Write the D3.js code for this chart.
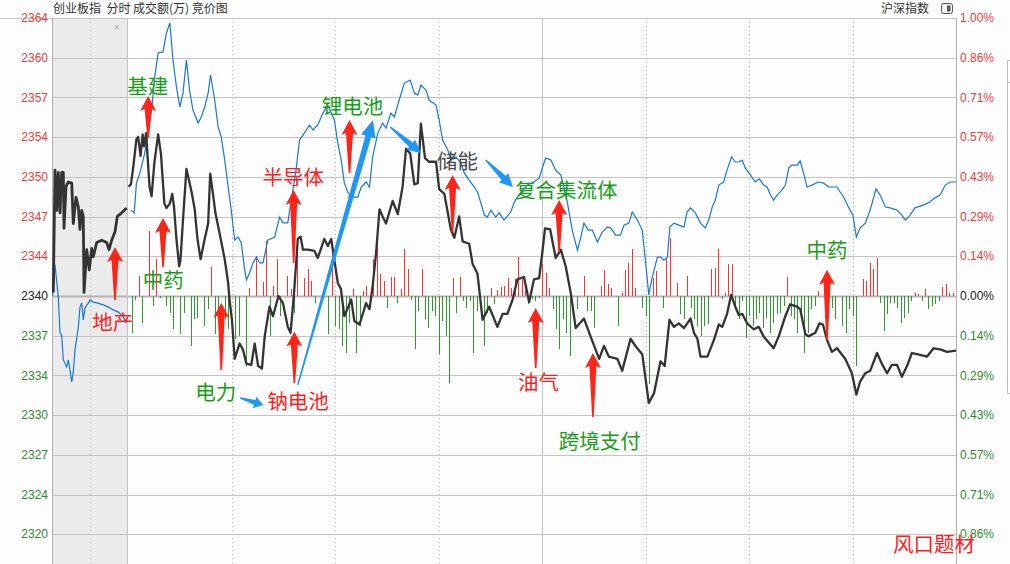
<!DOCTYPE html>
<html><head><meta charset="utf-8">
<script src="https://cdn.jsdelivr.net/npm/d3@7/dist/d3.min.js"></script>
<style>
html,body{margin:0;padding:0;background:#fdfdfd;}
svg{display:block;}
</style></head><body>
<svg id="c" width="1010" height="564"></svg>
<script>
// ---------------- DATA ----------------
const title = "创业板指\u00a0\u00a0分时 成交额(万) 竞价图";
const compareName = "沪深指数";
const cornerLabel = "风口题材";
const prevClose = 2340.3;
const tickPct = [1, 6/7, 5/7, 4/7, 3/7, 2/7, 1/7, 0, -1/7, -2/7, -3/7, -4/7, -5/7, -6/7];
const leftTickLabels = ["2364","2360","2357","2354","2350","2347","2344","2340","2337","2334","2330","2327","2324","2320"];
const rightTickLabels = ["1.00%","0.86%","0.71%","0.57%","0.43%","0.29%","0.14%","0.00%","0.14%","0.29%","0.43%","0.57%","0.71%","0.86%"];
const halfHourMinutes = [30, 60, 90, 150, 180, 210];
const noonMinute = 120;

// auction (9:15-9:25, minutes from 9:15), 创业板指 price
const cybAuction = [[0.17,2340.6],[0.4,2350.9],[0.63,2347.5],[0.84,2350.7],[1.07,2347.3],[1.29,2350.7],[1.51,2350.7],[1.6,2346.0],[1.87,2349.5],[2.17,2349.9],[2.63,2349.8],[2.84,2346.4],[3.2,2348.6],[3.51,2347.8],[3.73,2345.9],[3.96,2347.5],[4.17,2347.0],[4.27,2340.6],[4.63,2344.2],[4.97,2342.5],[5.29,2344.3],[5.51,2343.6],[5.96,2344.8],[6.63,2345.0],[7.29,2344.8],[7.6,2344.2],[7.96,2345.0],[8.4,2345.7],[8.71,2347.0],[9.29,2347.3],[9.96,2347.7]];
// auction, 沪深指数 change %
const hsAuction = [[0.07,0.000],[0.4,0.112],[0.84,-0.004],[1.07,-0.133],[1.29,-0.140],[1.51,-0.230],[1.96,-0.255],[2.17,-0.230],[2.4,-0.266],[2.63,-0.309],[2.84,-0.273],[3.07,-0.194],[3.51,-0.112],[3.73,-0.040],[3.96,-0.025],[4.17,-0.086],[4.4,-0.043],[4.84,-0.025],[5.07,-0.014],[5.51,-0.022],[5.96,-0.025],[6.84,-0.032],[7.51,-0.040],[8.17,-0.050],[8.84,-0.058],[9.51,-0.076],[9.87,-0.097]];

// session (minutes of trading from 9:30), 创业板指 price
const cybMain = [[0,2349.5],[0.7,2349.7],[1.4,2351.2],[2.3,2353.5],[2.8,2353.7],[3.5,2352.1],[4.1,2353.9],[4.5,2352.9],[5.1,2354.0],[6.1,2349.5],[6.7,2348.7],[7.5,2351.5],[8.6,2353.9],[9.4,2352.3],[10.4,2348.1],[11.0,2347.7],[12.0,2348.1],[12.7,2348.9],[13.2,2347.8],[13.9,2345.1],[14.7,2342.8],[15.1,2343.4],[15.8,2346.7],[16.8,2351.0],[17.5,2350.1],[18.4,2348.9],[19.2,2347.6],[20.0,2345.1],[20.9,2343.4],[22.1,2345.1],[23.1,2346.4],[23.7,2350.6],[24.5,2348.9],[25.2,2347.3],[26.4,2345.6],[27.9,2343.4],[28.9,2341.4],[29.3,2340.0],[30.0,2338.3],[30.8,2335.0],[32.2,2336.3],[33.2,2335.8],[34.2,2334.6],[35.6,2334.5],[36.6,2336.3],[37.6,2334.4],[38.7,2334.2],[39.5,2336.9],[40.9,2339.4],[41.9,2338.6],[43.5,2340.3],[44.8,2339.7],[46.2,2337.7],[47.0,2337.2],[48.0,2340.5],[49.1,2345.1],[49.9,2345.3],[50.6,2344.2],[52.0,2344.2],[53.9,2344.1],[54.9,2343.5],[56.8,2345.1],[57.8,2344.5],[58.8,2345.1],[60.7,2341.4],[61.6,2340.9],[62.6,2338.6],[64.6,2340.0],[65.5,2338.2],[67.0,2337.9],[68.9,2339.7],[69.9,2339.2],[70.8,2341.1],[71.8,2343.9],[72.8,2347.6],[73.7,2347.0],[74.7,2346.4],[76.6,2348.3],[78.1,2347.2],[79.5,2349.5],[80.5,2352.7],[81.7,2352.3],[82.9,2349.7],[83.9,2349.8],[84.8,2354.8],[86.0,2351.9],[87.2,2351.6],[89.2,2351.6],[90.1,2349.3],[91.6,2348.9],[93.5,2345.9],[94.5,2345.2],[95.9,2347.0],[96.9,2344.9],[98.8,2344.7],[99.8,2343.0],[101.2,2342.2],[102.7,2338.3],[104.6,2339.4],[107.0,2337.7],[108.5,2338.8],[109.9,2338.8],[111.4,2340.0],[112.8,2341.7],[114.7,2341.9],[116.2,2339.8],[117.6,2341.7],[119.1,2341.8],[120.0,2343.9],[120.8,2346.0],[122.3,2345.9],[123.9,2343.5],[125.4,2344.2],[126.8,2342.8],[128.3,2340.5],[129.7,2337.6],[132.1,2338.4],[134.0,2336.9],[136.5,2335.0],[137.9,2336.1],[139.3,2335.2],[141.8,2335.0],[143.2,2334.0],[145.6,2336.7],[147.0,2336.1],[149.0,2335.4],[150.9,2331.3],[152.4,2332.1],[154.3,2334.8],[155.5,2334.4],[156.9,2338.3],[158.2,2337.7],[159.6,2338.0],[161.1,2337.6],[163.0,2338.4],[164.0,2337.2],[165.0,2336.7],[165.9,2335.2],[167.9,2335.2],[169.8,2336.6],[171.2,2337.9],[172.2,2337.7],[173.6,2338.8],[174.8,2340.4],[176.0,2339.4],[177.0,2338.7],[178.0,2338.8],[179.4,2338.0],[181.3,2337.5],[182.8,2337.7],[184.2,2336.9],[187.1,2335.9],[188.6,2336.9],[190.5,2338.6],[191.9,2339.6],[193.9,2339.4],[194.8,2339.2],[196.3,2337.1],[197.2,2336.9],[199.2,2337.2],[200.4,2338.0],[201.4,2337.9],[202.6,2336.6],[204.0,2335.6],[205.5,2335.9],[207.9,2335.0],[209.8,2333.8],[211.1,2332.0],[212.2,2333.1],[213.7,2333.8],[215.1,2334.0],[217.1,2335.5],[218.5,2334.6],[220.0,2333.8],[221.4,2334.5],[222.9,2334.5],[224.3,2333.5],[225.8,2334.4],[227.2,2335.5],[228.7,2335.4],[231.6,2335.2],[233.5,2335.9],[235.4,2335.8],[237.4,2335.6],[240.0,2335.7]];

// session, 沪深指数 change %
const hsMain = [[0.7,0.309],[1.65,0.299],[2.3,0.406],[3.3,0.442],[4.7,0.514],[5.7,0.586],[6.7,0.669],[7.6,0.788],[8.6,0.874],[10.0,0.878],[11.0,0.946],[12.0,0.982],[12.9,0.849],[13.9,0.752],[14.9,0.680],[15.8,0.730],[16.8,0.849],[17.7,0.741],[18.7,0.669],[20.2,0.622],[21.1,0.644],[22.1,0.680],[23.1,0.730],[23.8,0.795],[25.0,0.705],[26.0,0.608],[26.9,0.572],[27.9,0.489],[28.9,0.392],[29.8,0.309],[30.8,0.201],[31.8,0.212],[32.7,0.191],[33.7,0.094],[34.2,0.058],[35.1,0.083],[36.1,0.119],[37.1,0.140],[38.0,0.119],[39.0,0.119],[40.4,0.201],[42.4,0.212],[43.8,0.284],[44.8,0.263],[46.2,0.263],[47.2,0.345],[48.6,0.453],[49.6,0.561],[51.0,0.586],[52.5,0.615],[53.5,0.597],[54.9,0.615],[56.4,0.658],[57.8,0.687],[58.8,0.658],[59.7,0.633],[60.7,0.550],[61.7,0.489],[62.6,0.406],[63.6,0.374],[64.6,0.356],[66.5,0.356],[67.5,0.392],[68.9,0.410],[69.9,0.392],[70.8,0.500],[72.3,0.586],[73.7,0.622],[74.7,0.604],[76.1,0.658],[77.1,0.644],[78.5,0.705],[80.0,0.766],[81.7,0.777],[82.9,0.730],[83.9,0.723],[84.8,0.759],[86.3,0.741],[87.2,0.705],[89.2,0.687],[90.1,0.633],[91.1,0.561],[92.6,0.525],[93.5,0.489],[95.0,0.500],[96.4,0.478],[97.4,0.442],[98.8,0.417],[100.3,0.392],[101.2,0.374],[102.2,0.335],[103.2,0.291],[104.1,0.284],[105.1,0.309],[106.5,0.284],[107.5,0.299],[108.9,0.273],[110.9,0.302],[111.8,0.335],[112.8,0.356],[114.3,0.381],[115.7,0.399],[117.6,0.410],[119.1,0.424],[120.1,0.464],[121.0,0.496],[122.5,0.489],[123.9,0.453],[125.4,0.435],[126.3,0.392],[127.3,0.335],[128.7,0.237],[130.2,0.165],[131.2,0.212],[132.1,0.262],[133.3,0.237],[134.5,0.237],[136.0,0.194],[137.4,0.230],[138.9,0.248],[139.8,0.245],[141.3,0.219],[142.7,0.219],[143.7,0.255],[145.1,0.262],[146.1,0.302],[147.6,0.273],[149.0,0.237],[150.0,0.119],[150.9,0.004],[151.9,0.068],[153.4,0.140],[154.3,0.140],[155.3,0.129],[156.3,0.140],[157.0,0.248],[158.2,0.262],[159.6,0.255],[161.1,0.248],[162.0,0.302],[163.0,0.317],[164.4,0.299],[165.9,0.262],[167.3,0.245],[168.3,0.273],[169.3,0.320],[170.2,0.345],[171.2,0.399],[172.6,0.410],[173.6,0.453],[174.9,0.500],[176.0,0.482],[177.0,0.482],[178.0,0.489],[178.9,0.460],[180.4,0.435],[181.8,0.410],[183.0,0.421],[184.2,0.399],[185.2,0.392],[186.2,0.363],[187.1,0.345],[188.1,0.363],[189.5,0.381],[190.5,0.399],[191.5,0.460],[192.4,0.471],[193.9,0.471],[194.8,0.486],[195.8,0.442],[196.8,0.392],[198.2,0.399],[200.1,0.410],[201.6,0.406],[203.0,0.392],[204.5,0.392],[205.5,0.392],[206.4,0.374],[207.4,0.356],[208.8,0.320],[210.1,0.291],[211.1,0.212],[212.2,0.245],[213.7,0.262],[215.1,0.309],[216.8,0.385],[218.0,0.363],[219.5,0.320],[220.9,0.317],[222.9,0.309],[224.3,0.291],[225.3,0.273],[226.7,0.291],[228.1,0.317],[230.5,0.327],[232.4,0.338],[233.9,0.353],[235.4,0.363],[236.9,0.399],[238.3,0.410],[240.0,0.410]];

// per-minute bar values (minute 0..240), positive red / negative green
const minuteBars = [
 0,-37,-4,20,-27,0,65,-10,37,-2,
 0,-10,-17,-33,0,-38,-17,0,-50,-23,
 -22,0,-30,-13,29,-38,-17,0,-23,-33,
 0,-43,-40,0,-70,8,0,40,0,14,
 55,-40,10,37,-20,0,20,7,-17,43,
 0,18,27,15,-7,0,0,0,-38,50,
 -30,-33,-50,-57,-27,7,-57,-30,5,10,
 0,37,62,22,15,-12,19,19,-7,7,
 47,27,-4,-53,-15,27,-23,-32,-15,-20,
 -58,-25,-40,-87,18,-17,19,-5,-12,-5,
 -57,-15,0,-50,-17,8,-8,6,9,10,
 18,8,17,39,17,6,-8,-3,-5,-2,
 32,23,8,-13,-33,-53,-23,-37,-60,0,
 -13,0,20,-15,-15,-32,0,10,26,12,
 8,0,-30,3,26,33,47,8,0,-12,
 -20,-88,18,25,0,-12,38,58,0,13,
 -18,-23,20,-12,-23,-30,-40,-30,-28,27,
 28,47,-3,3,32,32,-13,-23,-5,-42,
 -20,-30,-23,-17,-32,-22,-37,-27,-18,-17,
 -10,19,-20,-23,-37,-23,-57,-37,-13,-10,
 5,0,-23,-23,-12,-23,0,-30,-37,-13,
 -20,-70,0,17,15,33,27,38,-7,-35,
 -18,-7,-7,-12,-27,-22,-17,-5,3,2,
 -5,7,-13,-10,-8,-5,9,12,3,3,
 5];

// theme annotations: minute (negative = auction), pct of tip / tail, label
const upArrows = [
 {m:5.7,  tip:0.719, tail:0.568},
 {m:10.0, tip:0.281, tail:0.104},
 {m:-1.6, tip:0.176, tail:-0.014},
 {m:26.9, tip:-0.024,tail:-0.266},
 {m:48.1, tip:-0.128,tail:-0.313},
 {m:47.9, tip:0.381, tail:0.119},
 {m:64.1, tip:0.633, tail:0.442},
 {m:94.0, tip:0.435, tail:0.230},
 {m:124.9,tip:0.345, tail:0.158},
 {m:118.1,tip:-0.043,tail:-0.259},
 {m:134.7,tip:-0.205,tail:-0.435},
 {m:202.6,tip:0.094, tail:-0.158}
];
const themeLabels = [
 {t:"基建", m:5.6, p:0.759, c:"g"},
 {t:"中药", m:10.1, p:0.061, c:"g"},
 {t:"地产", m:-1.9, p:-0.090, c:"r"},
 {t:"电力", m:25.3, p:-0.342, c:"g"},
 {t:"钠电池", m:49.2, p:-0.374, c:"r"},
 {t:"半导体", m:47.8, p:0.432, c:"r"},
 {t:"锂电池", m:65.0, p:0.687, c:"g"},
 {t:"储能", m:95.4, p:0.489, c:"k"},
 {t:"复合集流体", m:127.0, p:0.385, c:"g"},
 {t:"油气", m:118.9, p:-0.306, c:"r"},
 {t:"跨境支付", m:136.7, p:-0.518, c:"g"},
 {t:"中药", m:202.6, p:0.169, c:"g"}
];
const linkArrows = [
 {m1:32.4, p1:-0.367, m2:39.1, p2:-0.392, hl:9,  hw:6, sw:2.6},
 {m1:49.1, p1:-0.320, m2:70.9, p2:0.633,  hl:17, hw:7.5, sw:3},
 {m1:75.9, p1:0.608,  m2:84.8, p2:0.514,  hl:13, hw:6.5, sw:3},
 {m1:103.6,p1:0.489,  m2:111.5,p2:0.392,  hl:13, hw:6.5, sw:3}
];

// ---------------- LAYOUT ----------------
const W = 1010, H = 564;
const L = 52, AUC = 127, R = 956, T = 18, B = 564;
const svg = d3.select("#c");
const xAuc = d3.scaleLinear().domain([0, 10]).range([L, AUC]);
const xMain = d3.scaleLinear().domain([0, 240]).range([128.5, R]);
const yPct = d3.scaleLinear().domain([-1, 1]).range([574, T]);
const toPct = p => (p / prevClose - 1) * 100;
const barH = d3.scaleLinear().domain([0, 100]).range([0, 100]);
const ax = m => m < 0 ? xAuc(10 + m) : xMain(m);

const COL = {red:"#ee3b3b", green:"#2e8b2e", grid:"#c4c4c4", lineK:"#333333", lineB:"#1878d0",
  labR:"#ff1c1c", labG:"#16a016", labK:"#4a4a4a", arrowR:"#ff2418", arrowB:"#2196f3"};

svg.append("rect").attr("width", W).attr("height", H).attr("fill", "#fdfdfd");
svg.append("rect").attr("x", L).attr("y", T).attr("width", AUC - L).attr("height", B - T).attr("fill", "#ebebeb");

svg.append("defs").append("clipPath").attr("id","plot")
  .append("rect").attr("x", L).attr("y", T).attr("width", R - L).attr("height", B - T);

const g = svg.append("g");
// horizontal grid
g.selectAll(".hg").data(tickPct).join("line")
  .attr("x1", (d,i) => i === 0 ? 0 : L).attr("x2", R)
  .attr("y1", d => Math.round(yPct(d)) + 0.5).attr("y2", d => Math.round(yPct(d)) + 0.5)
  .attr("stroke", d => d === 0 ? "#b4b4b4" : COL.grid)
  .attr("stroke-width", d => d === 0 ? 2 : 1);
// dotted verticals
const dotted = [xAuc(5)].concat(halfHourMinutes.map(xMain));
g.selectAll(".vd").data(dotted).join("line")
  .attr("x1", d => Math.round(d) + 0.5).attr("x2", d => Math.round(d) + 0.5)
  .attr("y1", T).attr("y2", B)
  .attr("stroke", "#b8b8b8").attr("stroke-dasharray", "1,3");
// solid verticals
const solid = [L, AUC, xMain(noonMinute), R];
g.selectAll(".vs").data(solid).join("line")
  .attr("x1", d => Math.round(d) + 0.5).attr("x2", d => Math.round(d) + 0.5)
  .attr("y1", T).attr("y2", B)
  .attr("stroke", (d,i) => (i === 0 || i === 3) ? "#b0b0b0" : COL.grid);

// axis labels
const labFont = "'Liberation Sans', Arial, sans-serif";
g.selectAll(".lt").data(tickPct).join("text")
  .attr("x", 48).attr("y", d => yPct(d) + 1)
  .attr("text-anchor", "end").attr("dominant-baseline", "middle")
  .attr("font-family", labFont).attr("font-size", 12)
  .attr("fill", d => d > 0 ? COL.red : d < 0 ? COL.green : "#222")
  .text((d,i) => leftTickLabels[i]);
g.selectAll(".rt").data(tickPct).join("text")
  .attr("x", 960).attr("y", d => yPct(d) + 1)
  .attr("text-anchor", "start").attr("dominant-baseline", "middle")
  .attr("font-family", labFont).attr("font-size", 12)
  .attr("fill", d => d > 0 ? COL.red : d < 0 ? COL.green : "#222")
  .text((d,i) => rightTickLabels[i]);

// header
const cjk = "'Noto Sans CJK SC', 'Noto Sans', sans-serif";
svg.append("text").attr("x", 53).attr("y", 13).attr("font-family", cjk).attr("font-size", 12)
  .attr("fill", "#333").text(title);
svg.append("text").attr("x", 929).attr("y", 13).attr("text-anchor","end").attr("font-family", cjk)
  .attr("font-size", 12).attr("fill", "#333").text(compareName);
svg.append("rect").attr("x", 941.5).attr("y", 3.5).attr("width", 11).attr("height", 10).attr("rx", 2)
  .attr("fill", "#f4f4f4").attr("stroke", "#555");
svg.append("rect").attr("x", 947).attr("y", 5.5).attr("width", 3.5).attr("height", 6).attr("fill", "#555");
svg.append("text").attr("x", 116.5).attr("y", 31).attr("text-anchor","middle").attr("font-family", labFont)
  .attr("font-size", 11).attr("fill", "#aaa").text("×");
// right-side partial frame
svg.append("line").attr("x1",1007.5).attr("x2",1007.5).attr("y1",60).attr("y2",393).attr("stroke","#bbb");
[60, 82, 393].forEach(yy => svg.append("line").attr("x1",1007.5).attr("x2",1010).attr("y1",yy+0.5).attr("y2",yy+0.5).attr("stroke","#bbb"));

// plot content
const p = svg.append("g").attr("clip-path", "url(#plot)");
const y0 = yPct(0);
p.selectAll(".bar").data(minuteBars.map((v,i) => ({m:i, v})).filter(d => d.v !== 0)).join("line")
  .attr("x1", d => Math.round(xMain(d.m)) + 0.5).attr("x2", d => Math.round(xMain(d.m)) + 0.5)
  .attr("y1", y0).attr("y2", d => d.v > 0 ? y0 - barH(d.v) : y0 + barH(-d.v))
  .attr("stroke", d => d.v > 0 ? "#ff3030" : "#2e9a2e").attr("stroke-width", 1);

const lineB1 = d3.line().x(d => xAuc(d[0])).y(d => yPct(d[1]));
const lineB2 = d3.line().x(d => xMain(d[0])).y(d => yPct(d[1]));
const lineK1 = d3.line().x(d => xAuc(d[0])).y(d => yPct(toPct(d[1])));
const lineK2 = d3.line().x(d => xMain(d[0])).y(d => yPct(toPct(d[1])));

p.append("path").attr("d", lineB1(hsAuction)).attr("fill","none").attr("stroke", COL.lineB).attr("stroke-width", 1.2);
p.append("path").attr("d", lineB2(hsMain)).attr("fill","none").attr("stroke", COL.lineB).attr("stroke-width", 1.2);
p.append("path").attr("d", lineK1(cybAuction)).attr("fill","none").attr("stroke", COL.lineK).attr("stroke-width", 2.8).attr("stroke-linejoin","round");
p.append("path").attr("d", lineK2(cybMain)).attr("fill","none").attr("stroke", COL.lineK).attr("stroke-width", 2.3).attr("stroke-linejoin","round");

// annotations
const an = svg.append("g");
an.selectAll(".ua").data(upArrows).join("path")
  .attr("d", d => {
    const x = ax(d.m), ty = yPct(d.tip), by = yPct(d.tail);
    const pts = [[x,ty],[x+8,ty+15],[x+3.5,ty+13],[x+0.8,by],[x-0.8,by],[x-3.5,ty+13],[x-8,ty+15]];
    return "M" + pts.map(q => q.join(",")).join("L") + "Z";
  }).attr("fill", COL.arrowR);

an.selectAll(".la").data(linkArrows).join("path")
  .attr("d", d => {
    const x1 = ax(d.m1), y1 = yPct(d.p1), x2 = ax(d.m2), y2 = yPct(d.p2);
    const dx = x2 - x1, dy = y2 - y1, len = Math.hypot(dx, dy);
    const ux = dx/len, uy = dy/len, nx = -uy, ny = ux;
    const bx = x2 - ux*d.hl, by = y2 - uy*d.hl;
    const tw = 0.7;
    const pts = [[x1+nx*tw, y1+ny*tw],[bx+nx*d.sw, by+ny*d.sw],[bx+nx*d.hw, by+ny*d.hw],[x2,y2],
                 [bx-nx*d.hw, by-ny*d.hw],[bx-nx*d.sw, by-ny*d.sw],[x1-nx*tw, y1-ny*tw]];
    return "M" + pts.map(q => q.join(",")).join("L") + "Z";
  }).attr("fill", COL.arrowB);

an.selectAll(".tl").data(themeLabels).join("text")
  .attr("x", d => ax(d.m)).attr("y", d => yPct(d.p))
  .attr("text-anchor","middle").attr("dominant-baseline","central")
  .attr("font-family", cjk).attr("font-size", 20.5)
  .attr("fill", d => d.c === "g" ? COL.labG : d.c === "r" ? COL.labR : COL.labK)
  .text(d => d.t);

svg.append("text").attr("x", 934).attr("y", 543).attr("text-anchor","middle").attr("dominant-baseline","central")
  .attr("font-family", cjk).attr("font-size", 20.5).attr("fill", COL.labR).text(cornerLabel);
</script></body></html>
